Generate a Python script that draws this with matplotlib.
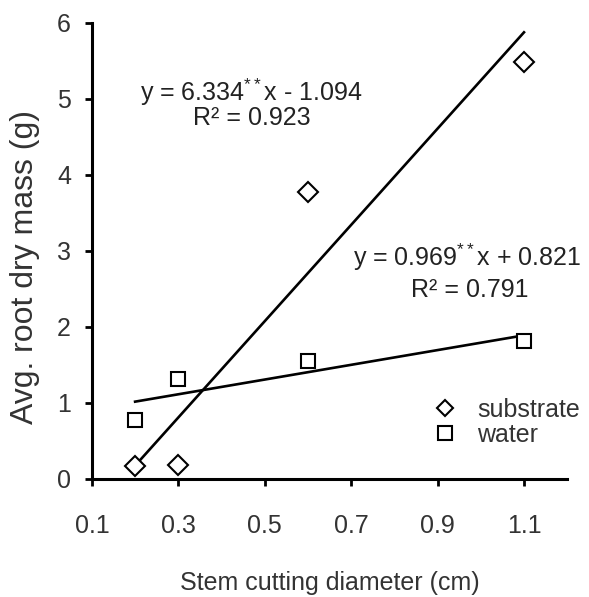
import matplotlib
matplotlib.use("Agg")
import matplotlib.pyplot as plt
from matplotlib.lines import Line2D
import numpy as np

plt.rcParams['font.family'] = ['Liberation Sans', 'DejaVu Sans']
plt.rcParams['mathtext.fontset'] = 'custom'
plt.rcParams['mathtext.rm'] = 'Liberation Sans'
plt.rcParams['mathtext.it'] = 'Liberation Sans'

diameter = [0.2, 0.3, 0.6, 1.1]
substrate = [0.17, 0.18, 3.77, 5.48]
water = [0.77, 1.31, 1.55, 1.81]
fit_substrate = (6.334, -1.094)
fit_water = (0.969, 0.821)
xticks = [0.1, 0.3, 0.5, 0.7, 0.9, 1.1]
yticks = [0, 1, 2, 3, 4, 5, 6]

fig = plt.figure(figsize=(5.89, 5.97), dpi=100)
ax = fig.add_axes([0.156, 0.198, 0.807, 0.764])

fs = 18
tc = '#333333'
ax.plot(diameter, substrate, linestyle='none', marker='D', ms=10, mfc='white',
        mec='black', mew=1.5, zorder=3)
ax.plot(diameter, water, linestyle='none', marker='s', ms=9.5, mfc='white',
        mec='black', mew=1.5, zorder=3)

xl = np.array([min(diameter), max(diameter)])
ax.plot(xl, fit_substrate[0] * xl + fit_substrate[1], color='black', lw=1.9, zorder=2)
ax.plot(xl, fit_water[0] * xl + fit_water[1], color='black', lw=1.9, zorder=2)

ax.set_xlim(0.1, 1.2)
ax.set_ylim(0, 6)
ax.set_xticks(xticks)
ax.set_xticklabels([f"{t:.1f}" for t in xticks])
ax.set_yticks(yticks)
for s in ['top', 'right']:
    ax.spines[s].set_visible(False)
for s in ['left', 'bottom']:
    ax.spines[s].set_linewidth(2.2)
ax.tick_params(direction='out', length=5, width=2, labelsize=fs, colors='black',
               labelcolor=tc)
ax.tick_params(axis='x', pad=20)
ax.tick_params(axis='y', pad=10)

ax.set_xlabel("Stem cutting diameter (cm)", fontsize=fs, color=tc, labelpad=24)
ax.set_ylabel("Avg. root dry mass (g)", fontsize=23, color=tc)
ax.yaxis.set_label_coords(-0.141, 0.465)
ax.yaxis.label.set_va('center')

ax.text(0.47, 5.09, "y = 6.334$^{**}$x - 1.094", fontsize=fs, ha='center',
        va='center', color='#222222')
ax.text(0.47, 4.75, "R² = 0.923", fontsize=fs, ha='center', va='center',
        color='#222222')
ax.text(1.232, 2.91, "y = 0.969$^{**}$x + 0.821", fontsize=fs, ha='right',
        va='center', color='#222222', clip_on=False)
ax.text(1.111, 2.49, "R² = 0.791", fontsize=fs, ha='right', va='center',
        color='#222222')

handles = [Line2D([], [], linestyle='none', marker='D', ms=8.5, mfc='white',
                  mec='black', mew=1.5),
           Line2D([], [], linestyle='none', marker='s', ms=10.5, mfc='white',
                  mec='black', mew=1.5)]
leg = ax.legend(handles, ['substrate', 'water'], loc='center left',
                bbox_to_anchor=(0.717, 0.124), frameon=False, fontsize=fs,
                handletextpad=0.78, labelspacing=0.05, handlelength=1.0,
                borderpad=0, borderaxespad=0)
for t in leg.get_texts():
    t.set_color(tc)

fig.savefig("out.png", dpi=100)
